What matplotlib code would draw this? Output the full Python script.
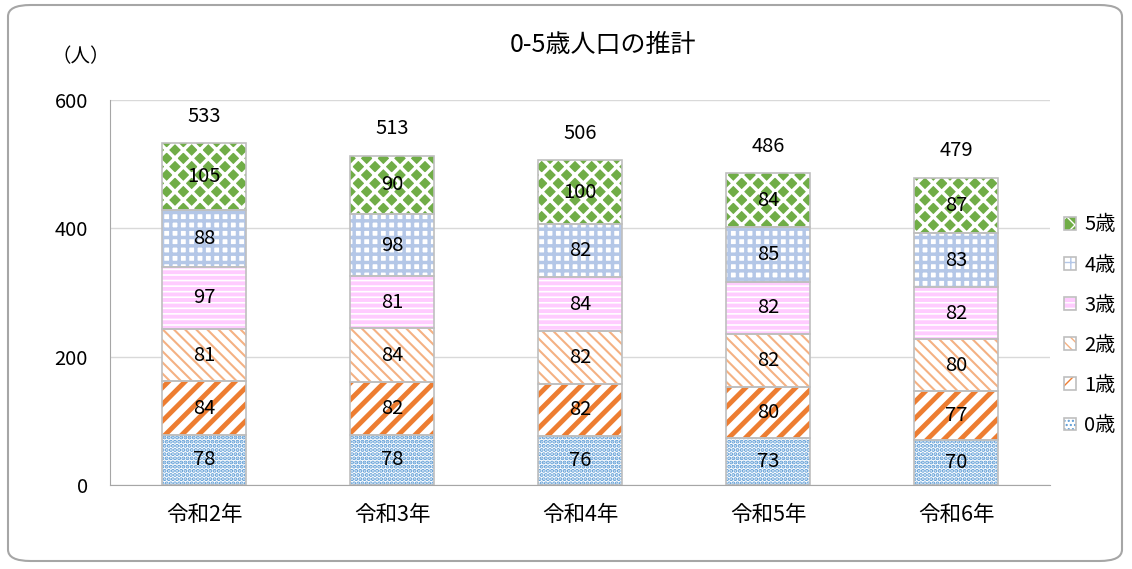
import matplotlib
matplotlib.use("Agg")
import matplotlib.pyplot as plt
from matplotlib.patches import FancyBboxPatch, Patch
from matplotlib.legend_handler import HandlerTuple
import numpy as np

plt.rcParams['font.family'] = ['Noto Sans CJK JP', 'DejaVu Sans']

# data
years = ['令和2年', '令和3年', '令和4年', '令和5年', '令和6年']
ages = ['0歳', '1歳', '2歳', '3歳', '4歳', '5歳']
age0 = [78, 78, 76, 73, 70]
age1 = [84, 82, 82, 80, 77]
age2 = [81, 84, 82, 82, 80]
age3 = [97, 81, 84, 82, 82]
age4 = [88, 98, 82, 85, 83]
age5 = [105, 90, 100, 84, 87]
totals = [533, 513, 506, 486, 479]

series = [age0, age1, age2, age3, age4, age5]
# (facecolor, hatch colour, hatch, hatch linewidth)
styles = [
    ('white', '#5B9BD5', '....', 2.0),
    ('white', '#ED7D31', '//', 3.5),
    ('white', '#F4B183', '\\\\\\', 1.5),
    ('#FFCCFF', 'white', '---', 1.2),
    ('white', '#B4C7E7', '++', 2.5),
    ('#70AD47', 'white', 'xx', 2.5),
]
edge = '#BFBFBF'

fig = plt.figure(figsize=(11.32, 5.69), dpi=100)
ax = fig.add_axes([0.0972, 0.1476, 0.8304, 0.6767])

# rounded outer frame
frame = FancyBboxPatch((8 / 1132, 8 / 569), 1114 / 1132, 556 / 569,
                       boxstyle="round,pad=0,rounding_size=0.02",
                       transform=fig.transFigure, facecolor='none',
                       edgecolor='#A6A6A6', linewidth=1.5, clip_on=False)
fig.patches.append(frame)

x = np.arange(len(years))
width = 0.45
bottom = np.zeros(len(years))
handles = []
for vals, (fc, hc, hatch, hlw), label in zip(series, styles, ages):
    with plt.rc_context({'hatch.linewidth': hlw}):
        ax.bar(x, vals, width, bottom=bottom, color=fc, edgecolor=hc,
               hatch=hatch, linewidth=0, zorder=2)
        h1 = Patch(facecolor=fc, edgecolor=hc, hatch=hatch, linewidth=0)
    h2 = Patch(facecolor='none', edgecolor=edge, linewidth=1.2)
    handles.append((h1, h2))
    ax.bar(x, vals, width, bottom=bottom, color='none', edgecolor=edge,
           linewidth=1.2, zorder=3)
    for xi, b, v in zip(x, bottom, vals):
        ax.text(xi, b + v / 2, str(v), ha='center', va='center', fontsize=14.5, zorder=4)
    bottom += np.array(vals)

for xi, t in zip(x, totals):
    ax.text(xi, t + 42, str(t), ha='center', va='center', fontsize=14.5)

ax.set_xlim(-0.5, len(years) - 0.5)
ax.set_ylim(0, 600)
ax.set_yticks([0, 200, 400, 600])
ax.set_xticks(x)
ax.set_xticklabels(years, fontsize=15.5)
ax.tick_params(axis='y', labelsize=14.5, length=0, pad=16)
ax.tick_params(axis='x', length=0, pad=14)
ax.grid(axis='y', color='#D9D9D9', linewidth=1, zorder=0)
ax.set_axisbelow(True)
for s in ['top', 'right']:
    ax.spines[s].set_visible(False)
ax.spines['left'].set_color('#A6A6A6')
ax.spines['bottom'].set_color('#A6A6A6')

fig.text(0.533, 0.921, '0-5歳人口の推計', ha='center', va='center', fontsize=18)
fig.text(0.071, 0.9, '（人）', ha='center', va='center', fontsize=14)

leg = ax.legend(handles[::-1], ages[::-1], loc='center left',
                handler_map={tuple: HandlerTuple(ndivide=1, pad=0)},
                bbox_to_anchor=(1.0, 0.415), frameon=False, fontsize=14.5,
                handlelength=0.6, handleheight=0.6, labelspacing=0.95,
                handletextpad=0.4, borderaxespad=0.3)

fig.savefig('out.png', dpi=100)
